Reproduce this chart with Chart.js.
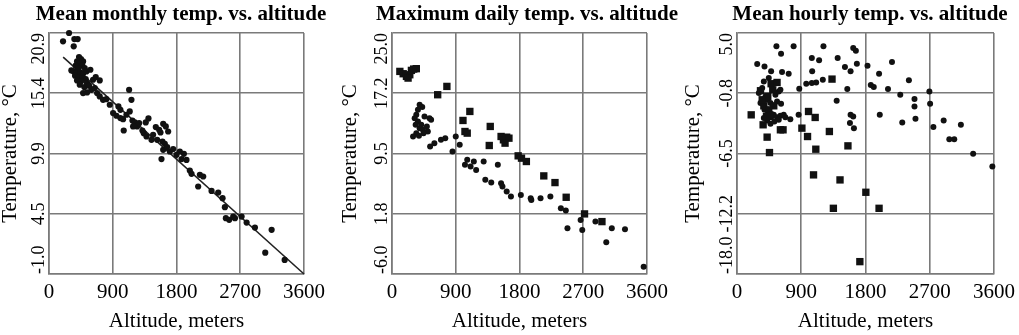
<!DOCTYPE html>
<html>
<head>
<meta charset="utf-8">
<script src="https://cdn.jsdelivr.net/npm/chart.js@4.4.0/dist/chart.umd.min.js"></script>
<style>
  html, body { margin: 0; padding: 0; background: #fff; overflow: hidden; }
  .painel { position: absolute; top: 0; }
</style>
</head>
<body>
<div class="painel" style="left:0px"><canvas id="g1" width="360" height="335"></canvas></div>
<div class="painel" style="left:340px"><canvas id="g2" width="360" height="335"></canvas></div>
<div class="painel" style="left:683px"><canvas id="g3" width="350" height="335"></canvas></div>
<script>
// --- dados: [altitude (m), temperatura (°C)] ---
const mensalPontos = [
  [198, 20.14], [283, 20.9], [358, 20.35], [405, 20.35], [349, 19.69], [424, 18.72], [452, 18.53],
  [396, 18.32], [481, 18.32], [434, 18.11], [377, 17.93], [471, 17.93], [415, 17.72], [504, 17.72],
  [316, 17.5], [349, 17.41], [386, 17.26], [443, 17.32], [481, 17.2], [528, 17.41], [584, 17.56],
  [368, 17.02], [415, 16.9], [471, 16.81], [518, 16.71], [396, 16.59], [452, 16.5], [537, 16.35],
  [434, 16.2], [499, 15.99], [565, 16.11], [622, 16.65], [660, 16.9], [716, 16.59], [598, 15.74],
  [481, 15.44], [537, 15.5], [646, 15.9], [679, 15.44], [716, 15.14], [763, 14.83], [810, 14.89],
  [858, 14.38], [905, 13.62], [952, 13.38], [980, 14.23], [1008, 13.92], [1008, 13.17], [1046, 13.07],
  [1055, 12.04], [1093, 13.47], [1131, 15.74], [1164, 14.83], [1140, 13.77], [1178, 12.95], [1211, 12.77],
  [1244, 12.41], [1187, 12.41], [1272, 12.71], [1319, 12.04], [1366, 12.77], [1404, 13.14], [1338, 11.8],
  [1376, 11.5], [1447, 11.19], [1470, 11.65], [1508, 12.35], [1555, 12.1], [1612, 12.65], [1649, 12.41],
  [1682, 11.95], [1574, 11.86], [1527, 11.19], [1602, 11.04], [1635, 10.83], [1612, 10.28], [1588, 9.44],
  [1668, 10.53], [1706, 10.13], [1753, 10.35], [1800, 9.83], [1847, 10.13], [1904, 9.92], [1871, 9.44],
  [1941, 9.37], [1988, 8.4], [2012, 8.1], [2130, 8.01], [2106, 6.95], [2177, 7.86], [2295, 6.55],
  [2389, 6.4], [2450, 5.89], [2483, 5.07], [2497, 4.07], [2544, 3.92], [2601, 4.22], [2625, 4.07],
  [2719, 4.22], [2790, 3.67], [2907, 3.22], [3143, 3.01], [3053, 0.94], [3327, 0.28]
];
const mensalReta = [[200, 18.7], [3600, -1.0]];

const diariaQuadrados = [
  [111, 20.06], [158, 19.76], [204, 19.42], [251, 19.63], [274, 20.19], [306, 20.36], [343, 20.41],
  [227, 19.2], [645, 17.06], [775, 18.13], [1002, 13.75], [1099, 14.91], [1030, 12.33], [1062, 12.12],
  [1387, 12.98], [1373, 10.53], [1540, 11.69], [1573, 11.26], [1619, 11.6], [1651, 11.47], [1596, 10.83],
  [1781, 9.2], [1828, 8.9], [1897, 8.47], [2143, 6.62], [2301, 5.76], [2459, 3.87], [2718, 1.73],
  [2964, 0.74]
];
const diariaCirculos = [
  [390, 15.77], [427, 15.47], [343, 14.48], [320, 14.05], [366, 13.62], [413, 13.19], [390, 12.76],
  [343, 12.12], [297, 11.69], [436, 12.55], [506, 12.33], [529, 14.05], [552, 13.84], [492, 12.98],
  [445, 12.12], [538, 10.4], [598, 10.83], [691, 11.26], [752, 11.47], [854, 9.76], [900, 11.69],
  [956, 10.62], [1062, 8.68], [1030, 8.04], [1109, 7.82], [1155, 8.47], [1188, 7.39], [1294, 8.47],
  [1317, 6.11], [1401, 5.76], [1494, 8.04], [1540, 5.68], [1559, 5.25], [1619, 4.6], [1679, 3.96],
  [1819, 4.17], [1958, 3.74], [1967, 3.53], [2097, 3.74], [2236, 3.96], [2384, 2.46], [2454, 2.16],
  [2477, -0.12], [2663, 0.95], [2686, -0.33], [2872, 0.74], [3025, -1.92], [3103, -0.12], [3289, -0.25],
  [3553, -5.06], [366, 15.12], [459, 14.27], [334, 13.19], [380, 11.77]
];

const horariaQuadrados = [
  [478, 0.16], [561, 0.28], [501, -0.42], [329, -0.51], [376, -1.95], [515, -1.95], [445, -2.33],
  [366, -3.76], [422, -4.94], [455, -6.41], [608, -4.24], [645, -4.24], [909, -4.08], [988, -4.88],
  [1002, -2.49], [1095, -3.06], [1104, -6.09], [1294, -4.4], [1331, 0.6], [1554, -5.77], [199, -2.81],
  [1072, -8.54], [1443, -9.02], [1350, -11.73], [1805, -10.2], [1990, -11.73], [1721, -16.82],
  [431, -1.05], [353, -1.37], [459, -2.81], [413, -2.97]
];
const horariaCirculos = [
  [552, 3.73], [793, 3.73], [617, 3.02], [283, 2.04], [385, 1.81], [478, 1.34], [631, 1.27],
  [724, 1.11], [1048, 2.61], [1150, 2.39], [1211, 3.73], [1410, 2.61], [1512, 1.75], [1628, 3.57],
  [1665, 3.31], [1679, 2.07], [1591, 1.34], [1828, 1.88], [1990, 1.11], [2171, 2.23], [2408, 0.48],
  [1053, 1.34], [970, 0.16], [1048, 0.22], [1109, 0.28], [1202, 0.54], [872, -0.32], [1545, -0.35],
  [1874, 0.03], [1916, -0.16], [2115, -0.35], [2287, -0.89], [2695, -0.58], [2486, -1.31], [2486, -2.01],
  [2705, -1.75], [2500, -3.19], [2315, -3.54], [2751, -3.98], [2895, -3.35], [3136, -3.76], [2974, -5.13],
  [3043, -5.13], [3308, -6.53], [3577, -7.74], [1396, -1.47], [1591, -2.81], [1628, -2.97], [1638, -4.08],
  [1582, -3.6], [2000, -2.81], [747, -3.22], [863, -2.81],
  [306, -0.73], [353, -0.26], [399, -1.05], [329, -1.69], [385, -2.33], [431, -2.81], [478, -3.03],
  [515, -2.81], [561, -3.03], [608, -2.9], [654, -2.81], [677, -3.03], [376, -3.12], [422, -3.35],
  [469, -3.67], [524, -3.44], [585, -3.28], [422, -1.37], [469, -1.69], [538, -0.89], [585, -0.58],
  [561, -1.53], [617, -1.75], [376, 0.38], [445, 0.7], [538, 0.28], [608, -0.42]
];

// ticks do eixo Y (valores e rótulos como aparecem na figura)
const mensalTicksY = [-1.0, 4.475, 9.95, 15.425, 20.9];
const mensalRotulosY = ['-1.0', '4.5', '9.9', '15.4', '20.9'];
const diariaTicksY = [-6.0, 1.75, 9.5, 17.25, 25.0];
const diariaRotulosY = ['-6.0', '1.8', '9.5', '17.2', '25.0'];
const horariaTicksY = [-18.0, -12.25, -6.5, -0.75, 5.0];
const horariaRotulosY = ['-18.0', '-12.2', '-6.5', '-0.8', '5.0'];
const ticksX = [0, 900, 1800, 2700, 3600];

const FONTE = "'Liberation Serif', 'Times New Roman', serif";
const COR_GRADE = '#7a7a7a';
const COR_PONTO = '#111';

function paraXY(lista) {
  return lista.map(p => ({ x: p[0], y: p[1] }));
}

function larguraTexto(texto, tamanho) {
  const ctx = document.createElement('canvas').getContext('2d');
  ctx.font = tamanho + 'px ' + FONTE;
  return ctx.measureText(texto).width;
}

// primeiro e último rótulo do eixo Y ficam "para dentro", como no original
function alinharExtremos(escala) {
  if (escala._alinhado) return;
  escala._alinhado = true;
  const original = escala._computeLabelItems;
  escala._computeLabelItems = function (area) {
    const itens = original.call(this, area);
    if (itens.length) {
      itens[0].options.textAlign = 'left';
      itens[itens.length - 1].options.textAlign = 'right';
    }
    return itens;
  };
}

// geo: largura do canvas, borda esquerda/direita do gráfico e centro do título (coords locais)
function montarPainel(id, titulo, datasets, ticksY, rotulosY, geo) {
  const tamY = 18;
  const maisLargo = Math.max(...rotulosY.map(r => larguraTexto(r, tamY)));
  const paddingY = 10 - maisLargo / 2;
  // a caixa do título vai de padEsq até a borda direita do canvas
  const padEsq = Math.max(0, 2 * geo.centroTitulo - geo.largura);

  return new Chart(document.getElementById(id), {
    type: 'scatter',
    data: { datasets: datasets },
    options: {
      responsive: false,
      animation: false,
      layout: { padding: { left: padEsq, right: 0, top: 0, bottom: 0 } },
      plugins: {
        legend: { display: false },
        tooltip: { enabled: false },
        title: {
          display: true,
          text: titulo,
          fullSize: true,
          color: '#000',
          font: { family: FONTE, size: 21, weight: 'bold', lineHeight: 1.2 },
          padding: { top: 2, bottom: 5.8 }
        }
      },
      scales: {
        x: {
          type: 'linear',
          min: 0,
          max: 3600,
          afterBuildTicks: s => { s.ticks = ticksX.map(v => ({ value: v })); },
          afterFit: s => { s.height = 61; },
          ticks: {
            callback: v => String(v),
            color: '#000',
            font: { family: FONTE, size: 21, lineHeight: 1.2 },
            padding: 5.4,
            maxRotation: 0,
            autoSkip: false
          },
          grid: { color: COR_GRADE, lineWidth: 1.6, drawTicks: false },
          border: { color: COR_GRADE, width: 1.6 },
          title: {
            display: true,
            text: 'Altitude, meters',
            color: '#000',
            font: { family: FONTE, size: 21, lineHeight: 1.2 },
            padding: { top: 0, bottom: 1.4 }
          }
        },
        y: {
          type: 'linear',
          min: ticksY[0],
          max: ticksY[ticksY.length - 1],
          afterBuildTicks: s => { s.ticks = ticksY.map(v => ({ value: v })); },
          afterFit: s => { s.width = geo.esquerda - padEsq; alinharExtremos(s); },
          ticks: {
            callback: (v, i) => rotulosY[i],
            color: '#000',
            font: { family: FONTE, size: tamY, lineHeight: 1.2 },
            minRotation: 90,
            maxRotation: 90,
            crossAlign: 'center',
            padding: paddingY,
            autoSkip: false
          },
          grid: { color: COR_GRADE, lineWidth: 1.6, drawTicks: false },
          border: { color: COR_GRADE, width: 1.6 },
          title: {
            display: true,
            text: 'Temperature, °C',
            color: '#000',
            font: { family: FONTE, size: 21, lineHeight: 1 },
            padding: { top: 10 - padEsq - 10.5, bottom: 0 }
          }
        },
        // eixo vazio só para reservar a margem à direita do gráfico
        margem: {
          type: 'linear',
          position: 'right',
          afterFit: s => { s.width = geo.largura - geo.direita; },
          ticks: { display: false },
          grid: { display: false },
          border: { display: false }
        }
      }
    }
  });
}

function serieCirculos(lista, raio) {
  return {
    data: paraXY(lista), pointStyle: 'circle', pointRadius: raio,
    backgroundColor: COR_PONTO, borderColor: COR_PONTO, borderWidth: 0, clip: false
  };
}

function serieQuadrados(lista, raio) {
  return {
    data: paraXY(lista), pointStyle: 'rect', pointRadius: raio,
    backgroundColor: COR_PONTO, borderColor: COR_PONTO, borderWidth: 0, clip: false
  };
}

montarPainel('g1', 'Mean monthly temp. vs. altitude', [
  serieCirculos(mensalPontos, 3.1),
  {
    data: paraXY(mensalReta), showLine: true, pointRadius: 0,
    borderColor: '#222', borderWidth: 1.6, clip: false
  }
], mensalTicksY, mensalRotulosY, { largura: 360, esquerda: 49, direita: 304, centroTitulo: 181 });

montarPainel('g2', 'Maximum daily temp. vs. altitude', [
  serieQuadrados(diariaQuadrados, 5.2),
  serieCirculos(diariaCirculos, 3)
], diariaTicksY, diariaRotulosY, { largura: 360, esquerda: 52, direita: 307, centroTitulo: 187 });

montarPainel('g3', 'Mean hourly temp. vs. altitude', [
  serieQuadrados(horariaQuadrados, 5.2),
  serieCirculos(horariaCirculos, 3)
], horariaTicksY, horariaRotulosY, { largura: 350, esquerda: 54, direita: 311, centroTitulo: 187 });
</script>
</body>
</html>
